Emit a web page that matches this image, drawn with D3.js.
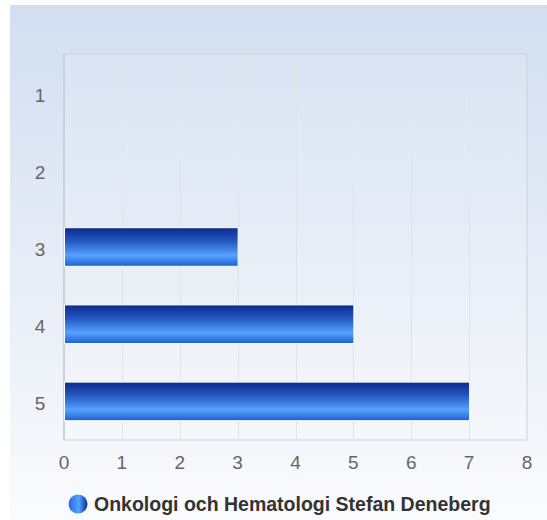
<!doctype html>
<html>
<head>
<meta charset="utf-8">
<script src="https://cdn.jsdelivr.net/npm/d3@7"></script>
<style>
  body { margin: 0; background: #fff; }
  svg { display: block; }
</style>
</head>
<body>
<svg width="547" height="520" id="chart"></svg>
<script>
// data
var categories = ["1", "2", "3", "4", "5"];
var values = [0, 0, 3, 5, 7];
var xTicks = [0, 1, 2, 3, 4, 5, 6, 7, 8];
var seriesName = "Onkologi och Hematologi Stefan Deneberg";

var svg = d3.select("#chart");
var plotL = 64, plotT = 54, plotR = 527, plotB = 440;
var font = "Arial, 'Liberation Sans', sans-serif";

var defs = svg.append("defs");

// background gradient
var bg = defs.append("linearGradient").attr("id", "bg")
  .attr("x1", 0).attr("y1", 0).attr("x2", 0).attr("y2", 1);
bg.append("stop").attr("offset", "0%").attr("stop-color", "#d2def0");
bg.append("stop").attr("offset", "100%").attr("stop-color", "#fafbfd");

// bar gradient
var bar = defs.append("linearGradient").attr("id", "bar")
  .attr("x1", 0).attr("y1", 0).attr("x2", 0).attr("y2", 1);
bar.append("stop").attr("offset", "0%").attr("stop-color", "#0a2b8c");
bar.append("stop").attr("offset", "35%").attr("stop-color", "#2458c0");
bar.append("stop").attr("offset", "72%").attr("stop-color", "#55a2ff");
bar.append("stop").attr("offset", "100%").attr("stop-color", "#1c5fd0");

// legend gradient (horizontal)
var leg = defs.append("linearGradient").attr("id", "leg")
  .attr("x1", 0).attr("y1", 0).attr("x2", 1).attr("y2", 0);
leg.append("stop").attr("offset", "0%").attr("stop-color", "#2a6ae0");
leg.append("stop").attr("offset", "55%").attr("stop-color", "#55a2ff");
leg.append("stop").attr("offset", "100%").attr("stop-color", "#0a2b8c");

svg.append("rect")
  .attr("x", 10).attr("y", 5)
  .attr("width", 537).attr("height", 515)
  .attr("fill", "url(#bg)");

var x = d3.scaleLinear().domain([0, 8]).range([plotL, plotR]);
var y = d3.scaleBand().domain(categories).range([plotT, plotB]).paddingInner(0.5).paddingOuter(0.25);

// plot area
svg.append("rect")
  .attr("x", plotL).attr("y", plotT)
  .attr("width", plotR - plotL).attr("height", plotB - plotT)
  .attr("fill", "rgba(255,255,255,0.12)")
  .attr("stroke", "#cdd2d9").attr("stroke-width", 1);

// vertical grid
svg.append("g")
  .selectAll("line")
  .data(xTicks.slice(1, -1))
  .enter().append("line")
  .attr("x1", function (d) { return Math.round(x(d)) + 0.5; })
  .attr("x2", function (d) { return Math.round(x(d)) + 0.5; })
  .attr("y1", plotT).attr("y2", plotB)
  .attr("stroke", "#dfe3ea").attr("stroke-width", 1);

// left axis line
svg.append("line")
  .attr("x1", plotL).attr("x2", plotL)
  .attr("y1", plotT).attr("y2", plotB)
  .attr("stroke", "#c9d1de").attr("stroke-width", 2);

// bars
svg.append("g")
  .selectAll("rect")
  .data(values.map(function (v, i) { return { c: categories[i], v: v }; }).filter(function (d) { return d.v > 0; }))
  .enter().append("rect")
  .attr("x", x(0) + 0.5)
  .attr("y", function (d) { return y(d.c); })
  .attr("width", function (d) { return x(d.v) - x(0); })
  .attr("height", y.bandwidth())
  .attr("fill", "url(#bar)")
  .attr("stroke", "#ffffff").attr("stroke-width", 1);

// y labels
svg.append("g")
  .selectAll("text")
  .data(categories)
  .enter().append("text")
  .attr("x", 40)
  .attr("y", function (d) { return y(d) + y.bandwidth() / 2 + 9; })
  .attr("text-anchor", "middle")
  .style("font-family", font)
  .style("font-size", "19px")
  .style("fill", "#666")
  .text(function (d) { return d; });

// x labels
svg.append("g")
  .selectAll("text")
  .data(xTicks)
  .enter().append("text")
  .attr("x", function (d) { return x(d); })
  .attr("y", 469)
  .attr("text-anchor", "middle")
  .style("font-family", font)
  .style("font-size", "19px")
  .style("fill", "#666")
  .text(function (d) { return d; });

// legend
svg.append("circle")
  .attr("cx", 78).attr("cy", 504).attr("r", 9.5)
  .attr("fill", "url(#leg)");
svg.append("text")
  .attr("x", 94).attr("y", 511)
  .style("font-family", font)
  .style("font-size", "19.5px")
  .style("font-weight", "bold")
  .style("fill", "#333")
  .text(seriesName);
</script>
</body>
</html>
